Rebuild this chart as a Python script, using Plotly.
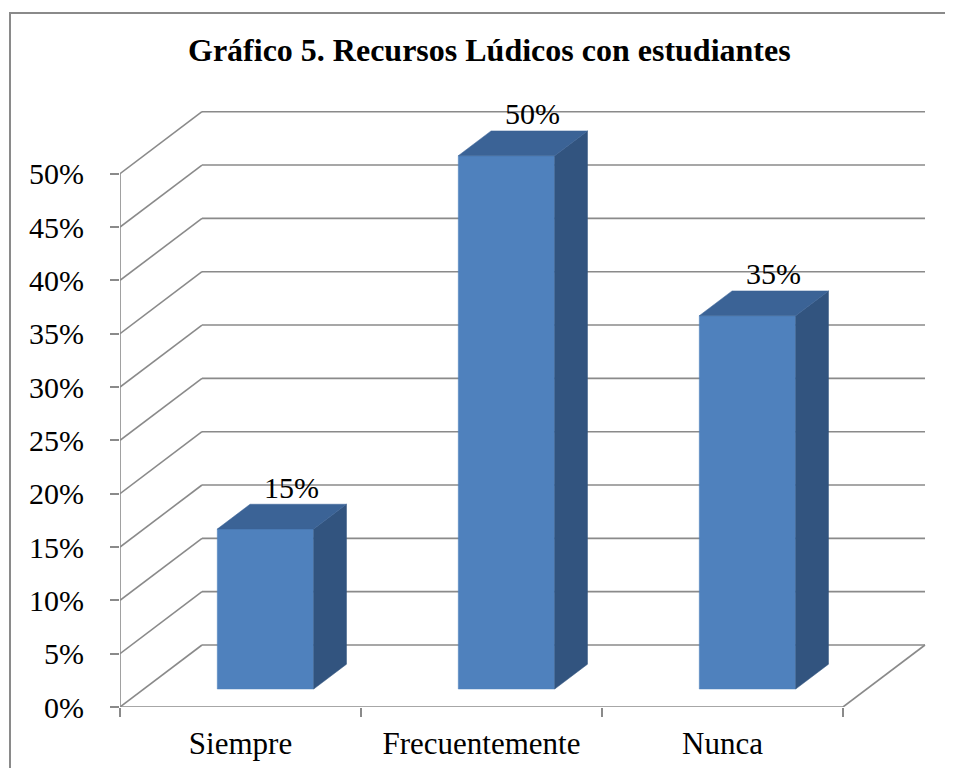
"""Gráfico 5: Recursos Lúdicos con estudiantes (3D-style column chart)."""

import plotly.graph_objects as go

categories = ["Siempre", "Frecuentemente", "Nunca"]
values = [15, 50, 35]
y_ticks = [0, 5, 10, 15, 20, 25, 30, 35, 40, 45, 50]
y_tick_labels = [f"{t}%" for t in y_ticks]

FONT = "Liberation Serif"
GRID = "#8a8a8a"
FRONT = "#4f81bd"
SIDE = "#32547f"
TOP = "#3b6396"

# page has an 8px body margin, so keep the figure inside the window (no scrollbars)
W, H = 937, 760
L, B = 112, 61
PX_X = 241            # pixels per category
PX_Y = 533.3 / 50     # pixels per percent
PLOT_W, PLOT_H = W - L, H - B

# oblique projection of the depth axis, in data units
KX = 82 / PX_X
KY = 62 / PX_Y
D1, D2 = 0.29, 0.69  # bar depth span
BAR_LEFT, BAR_W = 0.305, 0.40


def proj(x, y, d):
    return x + d * KX, y + d * KY


def poly(points):
    xs, ys = zip(*[proj(*p) for p in points])
    return list(xs) + [xs[0]], list(ys) + [ys[0]]


fig = go.Figure()

# walls and floor
gx, gy = [], []
n = len(categories)
for t in y_ticks:
    for a, b in [((0, t, 0), (0, t, 1)), ((0, t, 1), (n, t, 1))]:
        pa, pb = proj(*a), proj(*b)
        gx += [pa[0], pb[0], None]
        gy += [pa[1], pb[1], None]
for a, b in [((0, 0, 0), (n, 0, 0)), ((n, 0, 0), (n, 0, 1))]:
    pa, pb = proj(*a), proj(*b)
    gx += [pa[0], pb[0], None]
    gy += [pa[1], pb[1], None]
gx += [0, 0, None]
gy += [0, y_ticks[-1], None]
fig.add_trace(go.Scatter(x=gx, y=gy, mode="lines", line=dict(color=GRID, width=1.6),
                         hoverinfo="skip"))

# bars
for i, v in enumerate(values):
    x0, x1 = i + BAR_LEFT, i + BAR_LEFT + BAR_W
    faces = [
        ([(x0, 0, D1), (x1, 0, D1), (x1, v, D1), (x0, v, D1)], FRONT),
        ([(x1, 0, D1), (x1, 0, D2), (x1, v, D2), (x1, v, D1)], SIDE),
        ([(x0, v, D1), (x1, v, D1), (x1, v, D2), (x0, v, D2)], TOP),
    ]
    for pts, col in faces:
        px, py = poly(pts)
        fig.add_trace(go.Scatter(x=px, y=py, mode="lines", fill="toself", fillcolor=col,
                                 line=dict(color=col, width=0.5), hoverinfo="skip"))
    lx, ly = proj(x0 + BAR_W / 2, v, D2)
    fig.add_annotation(x=lx, y=ly, text=f"{v}%", showarrow=False, xshift=-7, yshift=17,
                       font=dict(family=FONT, size=30, color="black"))

fig.add_annotation(xref="paper", yref="paper", x=(481 - L) / PLOT_W, y=1 - 42 / PLOT_H,
                   text="<b>Gráfico 5. Recursos Lúdicos con estudiantes</b>", showarrow=False,
                   yanchor="middle", font=dict(family=FONT, size=32, color="black"))

# chart border: only the left and top edges fall inside the picture
bx, by = (2 - L) / PLOT_W, 1 - 5 / PLOT_H
fig.add_shape(type="path", xref="paper", yref="paper",
              path=f"M {bx},{-B / PLOT_H} L {bx},{by} L 1,{by}",
              line=dict(color="#8a8a8a", width=2))

fig.update_layout(
    width=W, height=H,
    margin=dict(l=L, r=0, t=0, b=B),
    paper_bgcolor="white", plot_bgcolor="white",
    showlegend=False,
    xaxis=dict(range=[0, PLOT_W / PX_X], tickvals=[i + 0.5 for i in range(n)],
               ticktext=categories,
               showgrid=False, zeroline=False, showline=False, ticks="",
               ticklabelstandoff=15,
               tickfont=dict(family=FONT, size=31, color="black"),
               minor=dict(tick0=0, dtick=1, ticks="outside", ticklen=9, tickcolor=GRID,
                          tickwidth=1.6, showgrid=False)),
    yaxis=dict(range=[0, PLOT_H / PX_Y], tickvals=y_ticks, ticktext=y_tick_labels,
               showgrid=False, zeroline=False, showline=False, ticks="outside", ticklen=9,
               tickcolor=GRID, tickwidth=1.6, ticklabelstandoff=20,
               tickfont=dict(family=FONT, size=30, color="black")),
)

fig.write_html("out.html")
